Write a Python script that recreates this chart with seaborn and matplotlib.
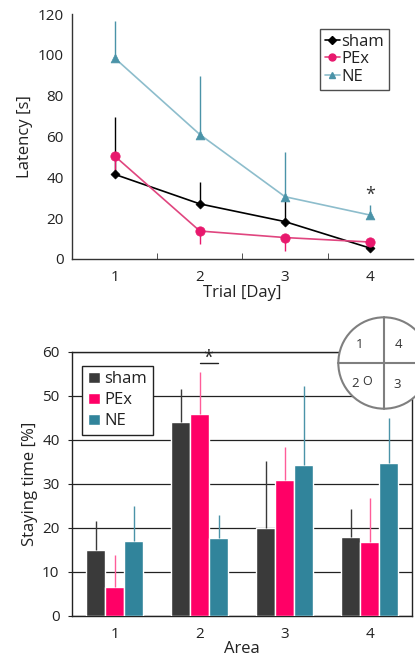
import numpy as np
import pandas as pd
import seaborn as sns
import matplotlib.pyplot as plt
from matplotlib.patches import Circle
from matplotlib.lines import Line2D

sns.set_style("white")
plt.rcParams['font.family'] = ['Open Sans', 'DejaVu Sans']
plt.rcParams['text.color'] = "#222222"
plt.rcParams['axes.labelcolor'] = "#222222"
plt.rcParams['xtick.color'] = "#222222"
plt.rcParams['ytick.color'] = "#222222"

# ---- data: latency (top panel)
days = [1, 2, 3, 4]
groups = ["sham", "PEx", "NE"]
latency = {
    "sham": [41.5, 27.0, 18.3, 5.3],
    "PEx": [50.5, 13.7, 10.5, 8.3],
    "NE": [98.5, 61.0, 30.5, 21.5],
}
# one-sided SD: sham/NE drawn upward, PEx downward
latency_err = {
    "sham": [28.0, 10.5, 10.0, 0.0],
    "PEx": [10.0, 6.4, 6.5, 0.0],
    "NE": [18.0, 28.5, 22.0, 5.0],
}
err_dir = {"sham": 1, "PEx": -1, "NE": 1}

# ---- data: staying time (bottom panel)
areas = [1, 2, 3, 4]
staying = {
    "sham": [15.0, 44.0, 20.0, 18.0],
    "PEx": [6.6, 46.0, 31.0, 16.8],
    "NE": [17.0, 17.7, 34.3, 34.8],
}
staying_err = {
    "sham": [6.5, 7.5, 15.3, 6.2],
    "PEx": [7.2, 9.5, 7.5, 10.0],
    "NE": [8.0, 5.3, 18.0, 10.3],
}

line_colors = {"sham": "#000000", "PEx": "#e0457f", "NE": "#8dbdcc"}
marker_colors = {"sham": "#000000", "PEx": "#e8186d", "NE": "#4a93a8"}
markers = {"sham": "D", "PEx": "o", "NE": "^"}
marker_sizes = {"sham": 22, "PEx": 45, "NE": 40}
bar_colors = {"sham": "#3a3a3a", "PEx": "#ff0066", "NE": "#31849b"}
bar_err_colors = {"sham": "#3a3a3a", "PEx": "#ff5c99", "NE": "#4a93a8"}

df_lat = pd.DataFrame([(d, g, latency[g][i]) for g in groups for i, d in enumerate(days)],
                      columns=["day", "group", "latency"])
df_stay = pd.DataFrame([(str(a), g, staying[g][i]) for g in groups for i, a in enumerate(areas)],
                       columns=["area", "group", "time"])

fig = plt.figure(figsize=(4.15, 6.6), dpi=100)

# ================= top panel
ax1 = fig.add_axes([0.1735, 0.6076, 0.8215, 0.371])
for g in groups:
    y = np.array(latency[g])
    e = np.array(latency_err[g]) * err_dir[g]
    ax1.vlines(days, y, y + e, color=marker_colors[g], lw=1.0, zorder=1)
sns.lineplot(data=df_lat, x="day", y="latency", hue="group", palette=line_colors,
             lw=1.2, legend=False, ax=ax1, zorder=2)
for g in groups:
    sub = df_lat[df_lat.group == g]
    sns.scatterplot(x=sub.day, y=sub.latency, marker=markers[g], s=marker_sizes[g],
                    color=marker_colors[g], edgecolor=marker_colors[g], ax=ax1,
                    zorder=3, label=None)
ax1.text(4, 27, "*", ha="center", va="bottom", fontsize=13, color="#333333")

ax1.set_xlim(0.5, 4.5)
ax1.set_ylim(0, 120)
ax1.set_yticks([0, 20, 40, 60, 80, 100, 120])
ax1.set_xticks(days)
ax1.set_xticks([1.5, 2.5, 3.5], minor=True)
ax1.tick_params(axis="x", which="major", length=0, labelsize=11, pad=8)
ax1.tick_params(axis="x", which="minor", length=4, direction="in", bottom=True, color="#333333")
ax1.tick_params(axis="y", length=0, labelsize=11, pad=6)
for s in ["top", "right"]:
    ax1.spines[s].set_visible(False)
for s in ["left", "bottom"]:
    ax1.spines[s].set_color("#333333")
    ax1.spines[s].set_linewidth(1.0)
ax1.set_xlabel("Trial [Day]", fontsize=12, labelpad=0)
ax1.set_ylabel("Latency [s]", fontsize=12, labelpad=3)

handles = [Line2D([0], [0], color=line_colors[g], marker=markers[g], markersize=5 if g != "sham" else 4,
                  markerfacecolor=marker_colors[g], markeredgecolor=marker_colors[g], lw=1.2)
           for g in groups]
leg1 = ax1.legend(handles, groups, loc="upper right", bbox_to_anchor=(0.955, 0.975),
                  handlelength=0.9, handletextpad=0.1, labelspacing=0.1, borderpad=0.3,
                  fontsize=12, frameon=True, fancybox=False, edgecolor="#222222")
leg1.get_frame().set_linewidth(1.0)

# ================= bottom panel
ax2 = fig.add_axes([0.1735, 0.0667, 0.8200, 0.400])
sns.barplot(data=df_stay, x="area", y="time", hue="group", palette=bar_colors,
            width=0.67, errorbar=None, saturation=1, ax=ax2, zorder=3)
ax2.set_axisbelow(True)
for k, g in enumerate(groups):
    cont = ax2.containers[k]
    xs = [p.get_x() + p.get_width() / 2 for p in cont.patches]
    ys = np.array(staying[g])
    ax2.vlines(xs, ys, ys + np.array(staying_err[g]), color=bar_err_colors[g], lw=1.0, zorder=4)

# significance marker between PEx and NE in area 2
p_pex = ax2.containers[1].patches[1]
p_ne = ax2.containers[2].patches[1]
x0 = p_pex.get_x() + p_pex.get_width() / 2
x1 = p_ne.get_x() + p_ne.get_width() * 0.45
ax2.plot([x0, x1], [57.6, 57.6], color="#222222", lw=1.0, zorder=4)
ax2.text((x0 + x1) / 2, 56.6, "*", ha="center", va="bottom", fontsize=13, color="#222222")

ax2.set_ylim(0, 60)
ax2.set_yticks([0, 10, 20, 30, 40, 50, 60])
ax2.set_xlim(-0.5, 3.5)
ax2.yaxis.grid(True, color="#222222", lw=0.9)
ax2.tick_params(axis="y", length=3, left=True, labelsize=11, pad=6, color="#222222")
ax2.tick_params(axis="x", length=0, labelsize=11, pad=8)
for s in ax2.spines.values():
    s.set_color("#222222")
    s.set_linewidth(1.0)
ax2.set_xlabel("Area", fontsize=12, labelpad=-1)
ax2.set_ylabel("Staying time [%]", fontsize=12, labelpad=3)
leg2 = ax2.legend(loc="upper left", bbox_to_anchor=(0.005, 0.98), handlelength=0.7,
                  handleheight=0.7, handletextpad=0.3, labelspacing=0.3, borderpad=0.35,
                  fontsize=12, frameon=True, fancybox=False, edgecolor="#222222",
                  framealpha=1, title=None)
leg2.get_frame().set_linewidth(1.0)

# ================= pool diagram inset
axc = fig.add_axes([(384 - 50) / 415, (660 - 363 - 50) / 660, 100 / 415, 100 / 660])
axc.set_xlim(-1.04, 1.04)
axc.set_ylim(-1.04, 1.04)
axc.set_aspect("equal")
axc.axis("off")
axc.add_patch(Circle((0, 0), 0.95, facecolor="white", edgecolor="#7f7f7f", lw=1.5, clip_on=False))
axc.plot([-0.95, 0.95], [0, 0], color="#7f7f7f", lw=1.5)
axc.plot([0, 0], [-0.95, 0.95], color="#7f7f7f", lw=1.5)
for t, (tx, ty) in zip(["1", "4", "2", "3"], [(-0.5, 0.38), (0.3, 0.38), (-0.6, -0.42), (0.27, -0.44)]):
    axc.text(tx, ty, t, ha="center", va="center", fontsize=9.5, color="#333333")
axc.text(-0.36, -0.38, "O", ha="center", va="center", fontsize=9, color="#333333")

fig.savefig("out.png", dpi=100)
